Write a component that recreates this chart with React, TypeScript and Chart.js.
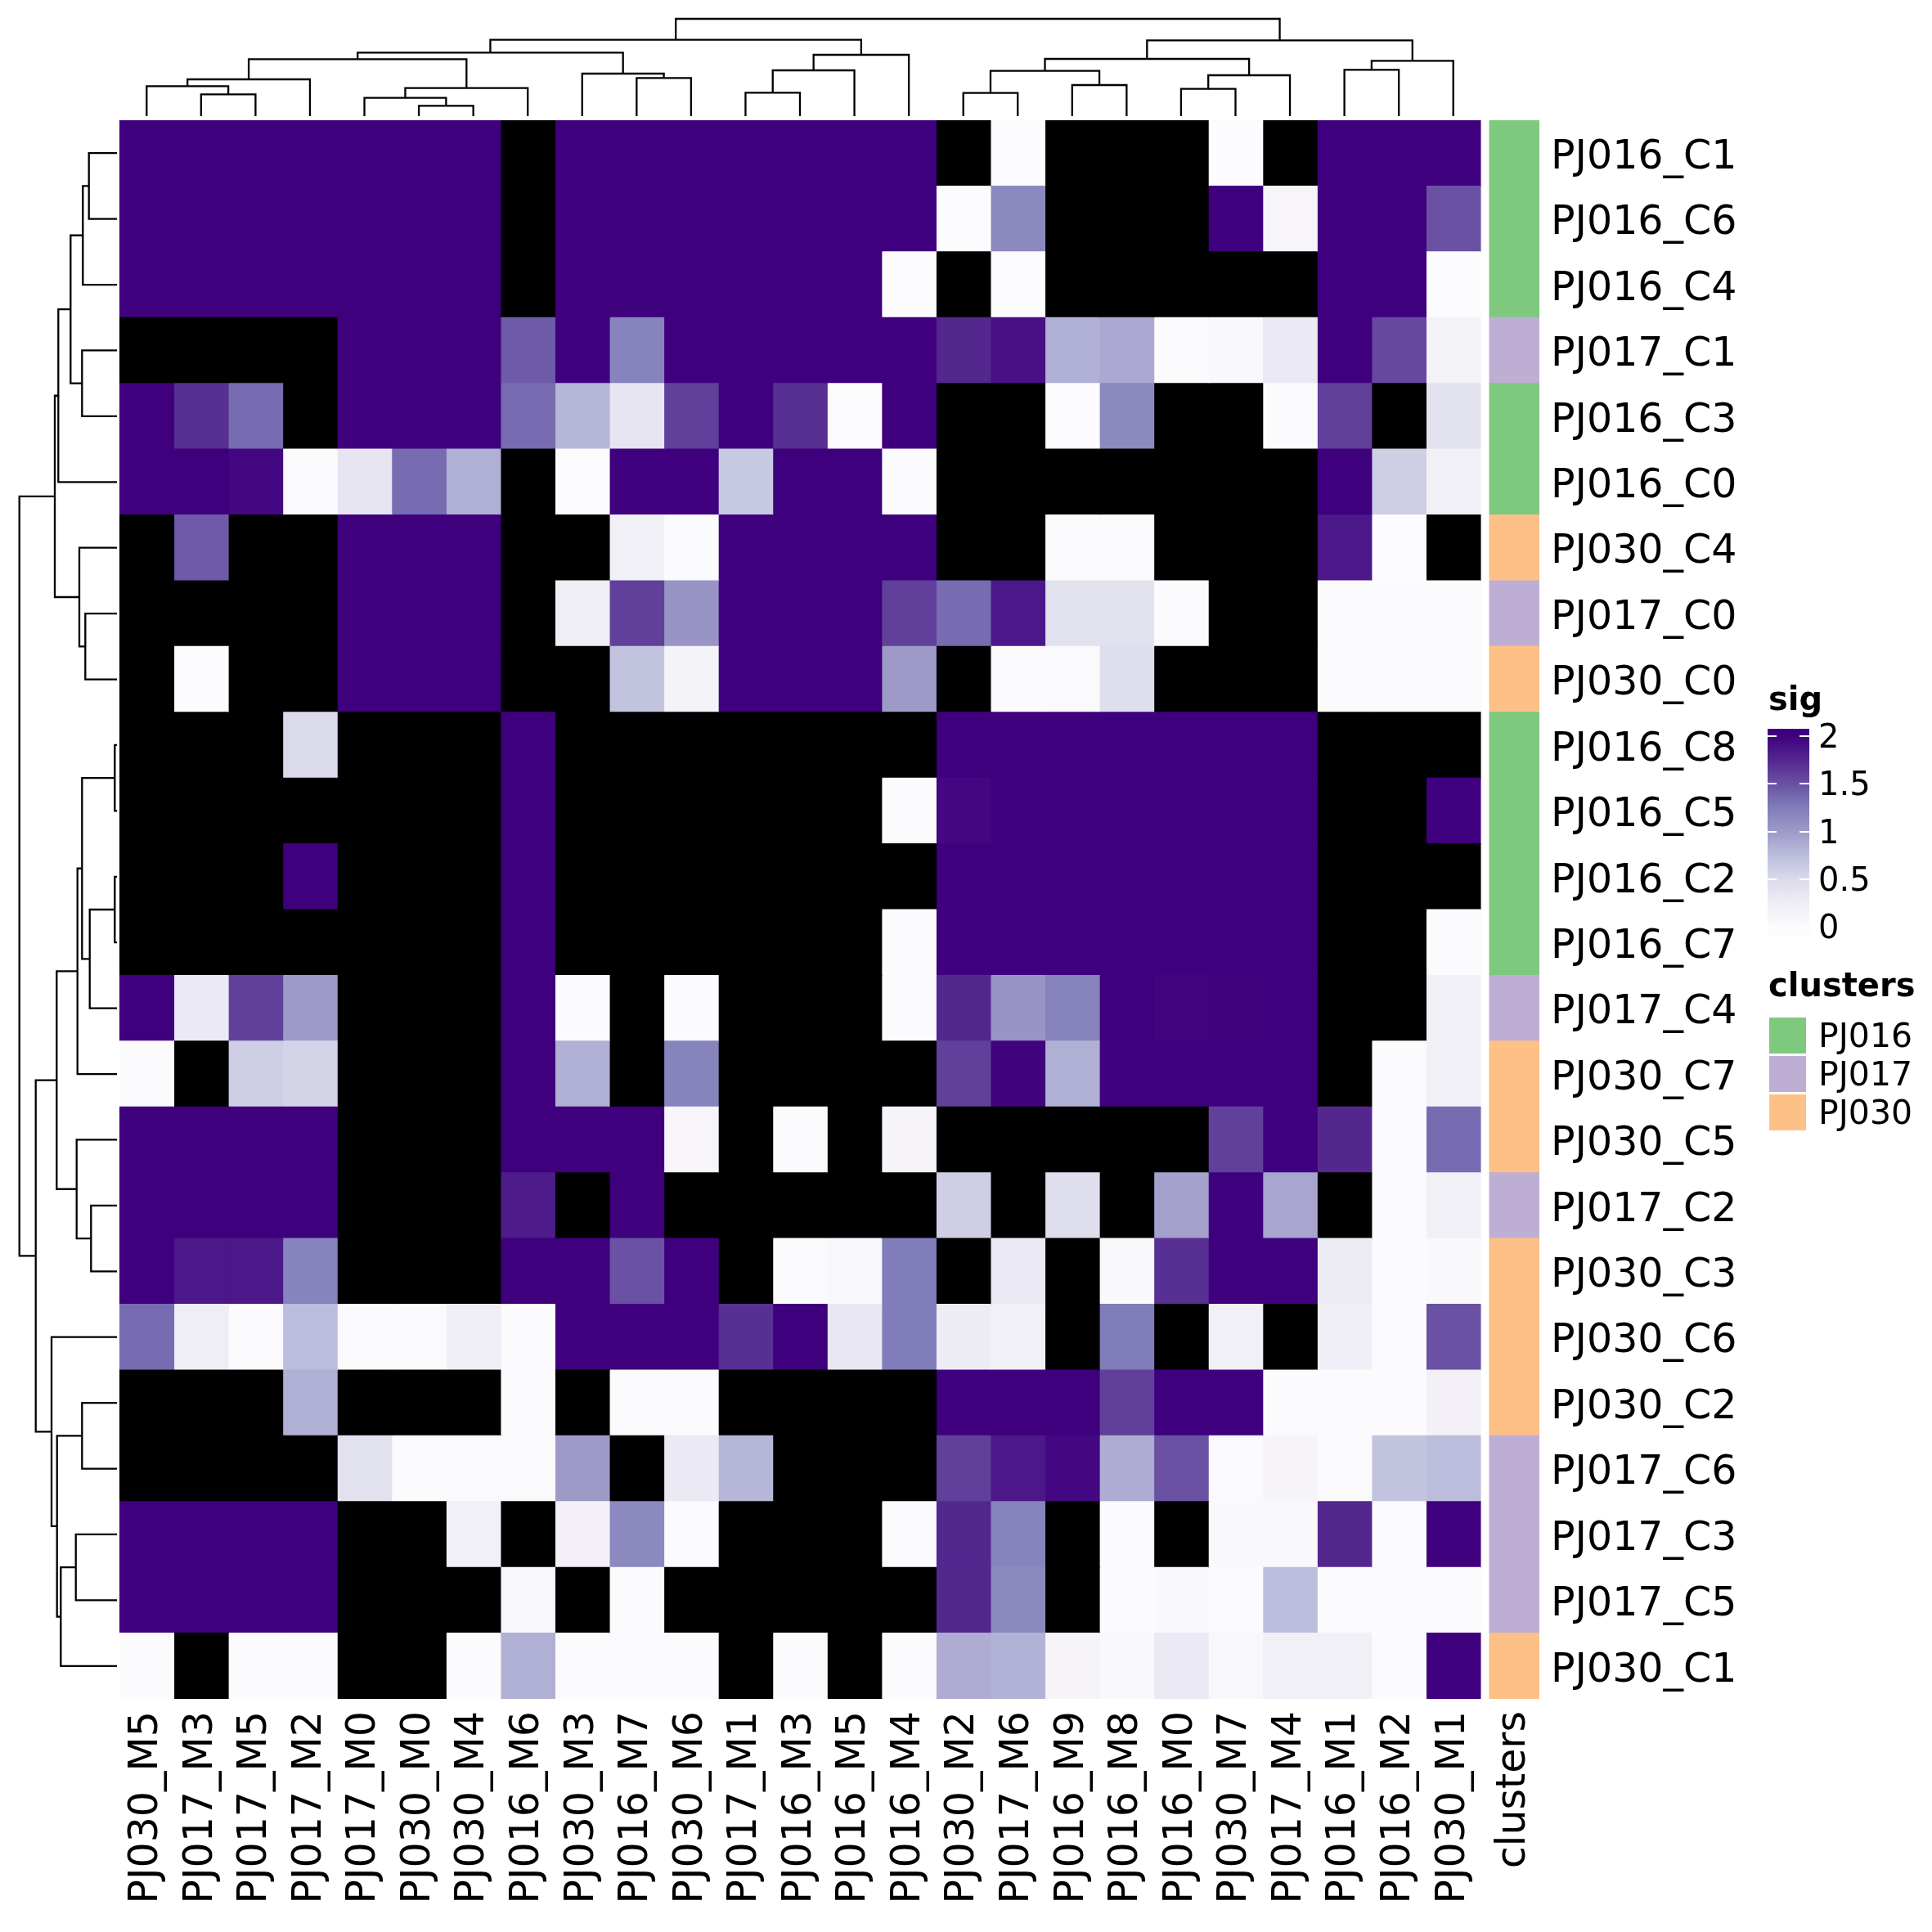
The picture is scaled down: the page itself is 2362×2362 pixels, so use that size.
import React, { useEffect, useRef } from 'react';
import { Chart, registerables } from 'chart.js';
Chart.register(...registerables);

const rowLabels = [
  'PJ016_C1', 'PJ016_C6', 'PJ016_C4', 'PJ017_C1', 'PJ016_C3', 'PJ016_C0',
  'PJ030_C4', 'PJ017_C0', 'PJ030_C0', 'PJ016_C8', 'PJ016_C5', 'PJ016_C2',
  'PJ016_C7', 'PJ017_C4', 'PJ030_C7', 'PJ030_C5', 'PJ017_C2', 'PJ030_C3',
  'PJ030_C6', 'PJ030_C2', 'PJ017_C6', 'PJ017_C3', 'PJ017_C5', 'PJ030_C1',
];

const colLabels = [
  'PJ030_M5', 'PJ017_M3', 'PJ017_M5', 'PJ017_M2', 'PJ017_M0', 'PJ030_M0', 'PJ030_M4',
  'PJ016_M6', 'PJ030_M3', 'PJ016_M7', 'PJ030_M6', 'PJ017_M1', 'PJ016_M3', 'PJ016_M5',
  'PJ016_M4', 'PJ030_M2', 'PJ017_M6', 'PJ016_M9', 'PJ016_M8', 'PJ016_M0', 'PJ030_M7',
  'PJ017_M4', 'PJ016_M1', 'PJ016_M2', 'PJ030_M1',
];

const N = null;
// sig values (rows x columns); null = missing (drawn black)
const sig: (number | null)[][] = [
  [2, 2, 2, 2, 2, 2, 2, N, 2, 2, 2, 2, 2, 2, 2, N, 0, N, N, N, 0, N, 2, 2, 2],
  [2, 2, 2, 2, 2, 2, 2, N, 2, 2, 2, 2, 2, 2, 2, 0, 1.15, N, N, N, 2, 0.1, 2, 2, 1.5],
  [2, 2, 2, 2, 2, 2, 2, N, 2, 2, 2, 2, 2, 2, 0, N, 0, N, N, N, N, N, 2, 2, 0],
  [N, N, N, N, 2, 2, 2, 1.45, 2, 1.2, 2, 2, 2, 2, 2, 1.75, 1.9, 0.85, 0.9, 0.02, 0.05, 0.3, 2, 1.55, 0.15],
  [2, 1.7, 1.35, N, 2, 2, 2, 1.35, 0.8, 0.35, 1.6, 2, 1.7, 0, 2, N, N, 0, 1.15, N, N, 0.02, 1.6, N, 0.4],
  [2, 2, 1.95, 0.02, 0.35, 1.35, 0.85, N, 0, 2, 2, 0.65, 2, 2, 0.02, N, N, N, N, N, N, N, 2, 0.6, 0.2],
  [N, 1.45, N, N, 2, 2, 2, N, N, 0.2, 0.02, 2, 2, 2, 2, N, N, 0.02, 0.02, N, N, N, 1.85, 0, N],
  [N, N, N, N, 2, 2, 2, N, 0.25, 1.6, 1.05, 2, 2, 2, 1.6, 1.35, 1.85, 0.4, 0.4, 0.02, N, N, 0.02, 0.02, 0.02],
  [N, 0, N, N, 2, 2, 2, N, N, 0.7, 0.15, 2, 2, 2, 1.0, N, 0.01, 0.03, 0.45, N, N, N, 0.02, 0.02, 0.02],
  [N, N, N, 0.5, N, N, N, 2, N, N, N, N, N, N, N, 2, 2, 2, 2, 2, 2, 2, N, N, N],
  [N, N, N, N, N, N, N, 2, N, N, N, N, N, N, 0.02, 1.95, 2, 2, 2, 2, 2, 2, N, N, 2],
  [N, N, N, 2, N, N, N, 2, N, N, N, N, N, N, N, 2, 2, 2, 2, 2, 2, 2, N, N, N],
  [N, N, N, N, N, N, N, 2, N, N, N, N, N, N, 0.02, 2, 2, 2, 2, 2, 2, 2, N, N, 0.02],
  [2, 0.3, 1.6, 1.0, N, N, N, 2, 0.01, N, 0.01, N, N, N, 0.01, 1.75, 1.05, 1.2, 2, 1.97, 1.98, 2, N, N, 0.2],
  [0.01, N, 0.6, 0.55, N, N, N, 2, 0.85, N, 1.2, N, N, N, N, 1.6, 1.98, 0.85, 2, 2, 2, 2, N, 0.01, 0.2],
  [2, 2, 2, 2, N, N, N, 2, 2, 2, 0.1, N, 0.01, N, 0.12, N, N, N, N, N, 1.6, 2, 1.75, 0.01, 1.35],
  [2, 2, 2, 2, N, N, N, 1.82, N, 2, N, N, N, N, N, 0.6, N, 0.45, N, 0.95, 2, 0.92, N, 0.01, 0.2],
  [2, 1.85, 1.85, 1.2, N, N, N, 2, 2, 1.5, 2, N, 0.02, 0.07, 1.25, N, 0.3, N, 0.05, 1.7, 2, 2, 0.28, 0.01, 0.05],
  [1.35, 0.25, 0.01, 0.75, 0.03, 0.03, 0.25, 0.01, 2, 2, 2, 1.7, 2, 0.33, 1.25, 0.27, 0.2, N, 1.25, N, 0.2, N, 0.23, 0.01, 1.5],
  [N, N, N, 0.85, N, N, N, 0.01, N, 0.01, 0.01, N, N, N, N, 2, 2, 2, 1.6, 2, 2, 0.01, 0.01, 0.01, 0.18],
  [N, N, N, N, 0.4, 0.01, 0.01, 0.04, 1.0, N, 0.3, 0.8, N, N, N, 1.6, 1.85, 1.95, 0.87, 1.5, 0.03, 0.12, 0.02, 0.7, 0.75],
  [2, 2, 2, 2, N, N, 0.2, N, 0.18, 1.15, 0.01, N, N, N, 0.01, 1.75, 1.2, N, 0.01, N, 0.06, 0.06, 1.75, 0.01, 2],
  [2, 2, 2, 2, N, N, N, 0.07, N, 0.01, N, N, N, N, N, 1.75, 1.15, N, 0.01, 0.06, 0.02, 0.75, 0.01, 0.01, 0.01],
  [0.01, N, 0.01, 0.01, N, N, 0.02, 0.85, 0.01, 0.01, 0.01, N, 0.01, N, 0.01, 0.87, 0.83, 0.12, 0.05, 0.3, 0.08, 0.2, 0.2, 0.01, 2],
];

const clusterNames = ['PJ016', 'PJ017', 'PJ030'];
const clusterColors = ['#7fc97f', '#beaed4', '#fdc086'];

// column dendrogram: [childA, childB, height]; leaves 0..24, merged nodes 25+
const colMerges: [number, number, number][] = [
  [1, 2, 26.7], [0, 25, 36.7], [26, 3, 45], [5, 6, 12.7], [4, 28, 22.3], [29, 7, 34.3],
  [27, 30, 69.7], [9, 10, 46.7], [8, 32, 52], [31, 33, 77.7], [11, 12, 28.7], [35, 13, 56],
  [36, 14, 75], [34, 37, 93.3], [15, 16, 28.3], [17, 18, 38], [39, 40, 55.3], [19, 20, 33.3],
  [42, 21, 50], [41, 43, 70], [22, 23, 56.7], [45, 24, 67.7], [44, 46, 92.7], [38, 47, 119],
];

// row dendrogram: leaves 0..23, merged nodes 24+
const rowMerges: [number, number, number][] = [
  [0, 1, 34.3], [24, 2, 41.7], [3, 4, 42.7], [25, 26, 56.7], [27, 5, 71.7], [7, 8, 38.7],
  [6, 29, 46], [28, 30, 76], [9, 10, 2.7], [11, 12, 2.7], [33, 13, 33.3], [32, 34, 42.7],
  [35, 14, 48.3], [16, 17, 31.7], [15, 37, 49.3], [36, 38, 73.7], [19, 20, 42.7], [21, 22, 50.3],
  [41, 23, 68.7], [40, 42, 73.3], [18, 43, 80], [39, 44, 99.3], [31, 45, 119.3],
];

const sigTicks = [0, 0.5, 1, 1.5, 2];
const sigMin = 0;
const sigMax = 2;

const purplesStops = ['#fcfbfd', '#efedf5', '#dadaeb', '#bcbddc', '#9e9ac8', '#807dba', '#6a51a3', '#54278f', '#3f007d'];

function hexToRgb(h: string) {
  return [parseInt(h.slice(1, 3), 16), parseInt(h.slice(3, 5), 16), parseInt(h.slice(5, 7), 16)];
}
function purples(v: number) {
  let t = (v - sigMin) / (sigMax - sigMin);
  t = Math.max(0, Math.min(1, t));
  const s = t * (purplesStops.length - 1);
  const i = Math.min(Math.floor(s), purplesStops.length - 2);
  const f = s - i;
  const a = hexToRgb(purplesStops[i]);
  const b = hexToRgb(purplesStops[i + 1]);
  const c = a.map((x, k) => Math.round(x + (b[k] - x) * f));
  return `rgb(${c[0]},${c[1]},${c[2]})`;
}
function cellColor(v: number | null) {
  return v === null ? '#000000' : purples(v);
}

const FONT = 'DejaVu Sans';
const W = 2362;
const PAD_LEFT = 146;
const PAD_TOP = 147;
const Y_AXIS_W = 480;
const X_AXIS_H = 285;
const GAP = 0.165;
const CLUSTER_W = 0.916;

function dendroSegments(merges: [number, number, number][], nLeaves: number) {
  const pos: number[] = [];
  const h: number[] = [];
  for (let i = 0; i < nLeaves; i++) { pos.push(i + 0.5); h.push(0); }
  const segs: [number, number][][] = [];
  merges.forEach(([a, b, d]) => {
    segs.push([[pos[a], h[a]], [pos[a], d], [pos[b], d], [pos[b], h[b]]]);
    pos.push((pos[a] + pos[b]) / 2);
    h.push(d);
  });
  return segs;
}

function Heatmap() {
  const ref = useRef<HTMLCanvasElement>(null);
  useEffect(() => {
    const nCols = colLabels.length;
    const xMax = nCols + GAP + CLUSTER_W;
    const tickPos = [...colLabels.map((_, j) => j + 0.5), nCols + GAP + CLUSTER_W / 2];
    const tickLabels = [...colLabels, 'clusters'];
    const base = {
      barPercentage: 1,
      categoryPercentage: 1,
      borderWidth: 0,
      inflateAmount: 0.5,
    };
    const datasets: any[] = colLabels.map((c, j) => ({
      ...base,
      label: c,
      data: rowLabels.map(() => 1),
      backgroundColor: rowLabels.map((_, i) => cellColor(sig[i][j])),
    }));
    datasets.push({
      ...base,
      inflateAmount: 0,
      label: 'gap',
      data: rowLabels.map(() => GAP),
      backgroundColor: 'rgba(0,0,0,0)',
    });
    datasets.push({
      ...base,
      label: 'clusters',
      data: rowLabels.map(() => CLUSTER_W),
      backgroundColor: rowLabels.map((r) => clusterColors[clusterNames.indexOf(r.split('_')[0])]),
    });
    const chart = new Chart(ref.current!, {
      type: 'bar',
      data: { labels: rowLabels, datasets },
      options: {
        indexAxis: 'y',
        animation: false,
        responsive: false,
        events: [],
        layout: { padding: { left: PAD_LEFT, top: PAD_TOP, right: 0, bottom: 0 } },
        plugins: { legend: { display: false }, tooltip: { enabled: false } },
        scales: {
          x: {
            type: 'linear',
            stacked: true,
            min: 0,
            max: xMax,
            position: 'bottom',
            grid: { display: false, drawTicks: false },
            border: { display: false },
            afterBuildTicks: (s: any) => { s.ticks = tickPos.map((v) => ({ value: v })); },
            afterFit: (s: any) => { s.height = X_AXIS_H; },
            ticks: {
              autoSkip: false,
              minRotation: 90,
              maxRotation: 90,
              padding: 15,
              color: '#000',
              font: { family: FONT, size: 49 },
              callback: (_v: any, i: number) => tickLabels[i],
            },
          },
          y: {
            type: 'category',
            stacked: true,
            position: 'right',
            grid: { display: false, drawTicks: false },
            border: { display: false },
            afterFit: (s: any) => { s.width = Y_AXIS_W; },
            ticks: { padding: 14, labelOffset: 6, color: '#000', font: { family: FONT, size: 49 } },
          },
        },
      } as any,
    });
    return () => chart.destroy();
  }, []);
  return <canvas ref={ref} width={W} height={W} style={{ position: 'absolute', left: 0, top: 0, width: W, height: W }} />;
}

function Dendrogram({ orient }: { orient: 'top' | 'left' }) {
  const ref = useRef<HTMLCanvasElement>(null);
  const colW = (W - PAD_LEFT - Y_AXIS_W) / (colLabels.length + GAP + CLUSTER_W);
  const heatH = W - PAD_TOP - X_AXIS_H;
  const isTop = orient === 'top';
  const cw = isTop ? colW * colLabels.length : 143;
  const ch = isTop ? 142 : heatH;
  useEffect(() => {
    const segs = isTop ? dendroSegments(colMerges, colLabels.length) : dendroSegments(rowMerges, rowLabels.length);
    const datasets = segs.map((s) => ({
      data: s.map(([p, d]) => (isTop ? { x: p, y: d } : { x: d, y: p })),
      showLine: true,
      borderColor: '#000',
      borderWidth: 2.3,
      pointRadius: 0,
      clip: false,
      tension: 0,
    }));
    const chart = new Chart(ref.current!, {
      type: 'scatter',
      data: { datasets },
      options: {
        animation: false,
        responsive: false,
        events: [],
        layout: { padding: 0 },
        plugins: { legend: { display: false }, tooltip: { enabled: false } },
        scales: isTop
          ? {
              x: { type: 'linear', min: 0, max: colLabels.length, display: false },
              y: { type: 'linear', min: 0, max: 142, display: false },
            }
          : {
              x: { type: 'linear', min: 0, max: 143, reverse: true, display: false },
              y: { type: 'linear', min: 0, max: rowLabels.length, reverse: true, display: false },
            },
      } as any,
    });
    return () => chart.destroy();
  }, []);
  const style: React.CSSProperties = isTop
    ? { position: 'absolute', left: PAD_LEFT, top: 0, width: cw, height: ch }
    : { position: 'absolute', left: 0, top: PAD_TOP, width: cw, height: ch };
  return <canvas ref={ref} width={Math.round(cw)} height={Math.round(ch)} style={style} />;
}

function Legend() {
  const barTop = 891;
  const barBottom = 1143;
  const y0 = 1133;
  const y2 = 900;
  const pxPerUnit = (y0 - y2) / (sigMax - sigMin);
  const vBottom = sigMin - (barBottom - y0) / pxPerUnit;
  const vTop = sigMax + (y2 - barTop) / pxPerUnit;
  const stops = purplesStops.map((c, k) => {
    const v = sigMin + (k / (purplesStops.length - 1)) * (sigMax - sigMin);
    const pct = ((v - vBottom) / (vTop - vBottom)) * 100;
    return `${c} ${pct.toFixed(2)}%`;
  });
  const grad = `linear-gradient(to top, ${purplesStops[0]} 0%, ${stops.join(', ')}, ${purplesStops[purplesStops.length - 1]} 100%)`;
  const txt: React.CSSProperties = { position: 'absolute', fontFamily: FONT, color: '#000', whiteSpace: 'nowrap', lineHeight: '40px' };
  return (
    <div>
      <div style={{ ...txt, left: 2162, top: 834, fontSize: 40, fontWeight: 'bold' }}>sig</div>
      <div style={{ position: 'absolute', left: 2161, top: barTop, width: 51, height: barBottom - barTop, background: grad }} />
      {sigTicks.map((t) => {
        const y = y0 - (t - sigMin) * pxPerUnit;
        return (
          <React.Fragment key={t}>
            <div style={{ position: 'absolute', left: 2161, top: y - 1, width: 11, height: 2, background: '#fff' }} />
            <div style={{ position: 'absolute', left: 2200, top: y - 1, width: 12, height: 2, background: '#fff' }} />
            <div style={{ ...txt, left: 2223, top: y - 20, fontSize: 40 }}>{String(t)}</div>
          </React.Fragment>
        );
      })}
      <div style={{ ...txt, left: 2162, top: 1184, fontSize: 40, fontWeight: 'bold' }}>clusters</div>
      {clusterNames.map((c, i) => (
        <React.Fragment key={c}>
          <div style={{ position: 'absolute', left: 2163, top: 1244 + 47 * i, width: 45, height: 44, background: clusterColors[i] }} />
          <div style={{ ...txt, left: 2223, top: 1266 + 47 * i - 20, fontSize: 41 }}>{c}</div>
        </React.Fragment>
      ))}
    </div>
  );
}

export default function App() {
  return (
    <div style={{ position: 'absolute', left: 0, top: 0, width: W, height: W, background: '#fff', overflow: 'hidden' }}>
      <Heatmap />
      <Dendrogram orient="top" />
      <Dendrogram orient="left" />
      <Legend />
    </div>
  );
}
